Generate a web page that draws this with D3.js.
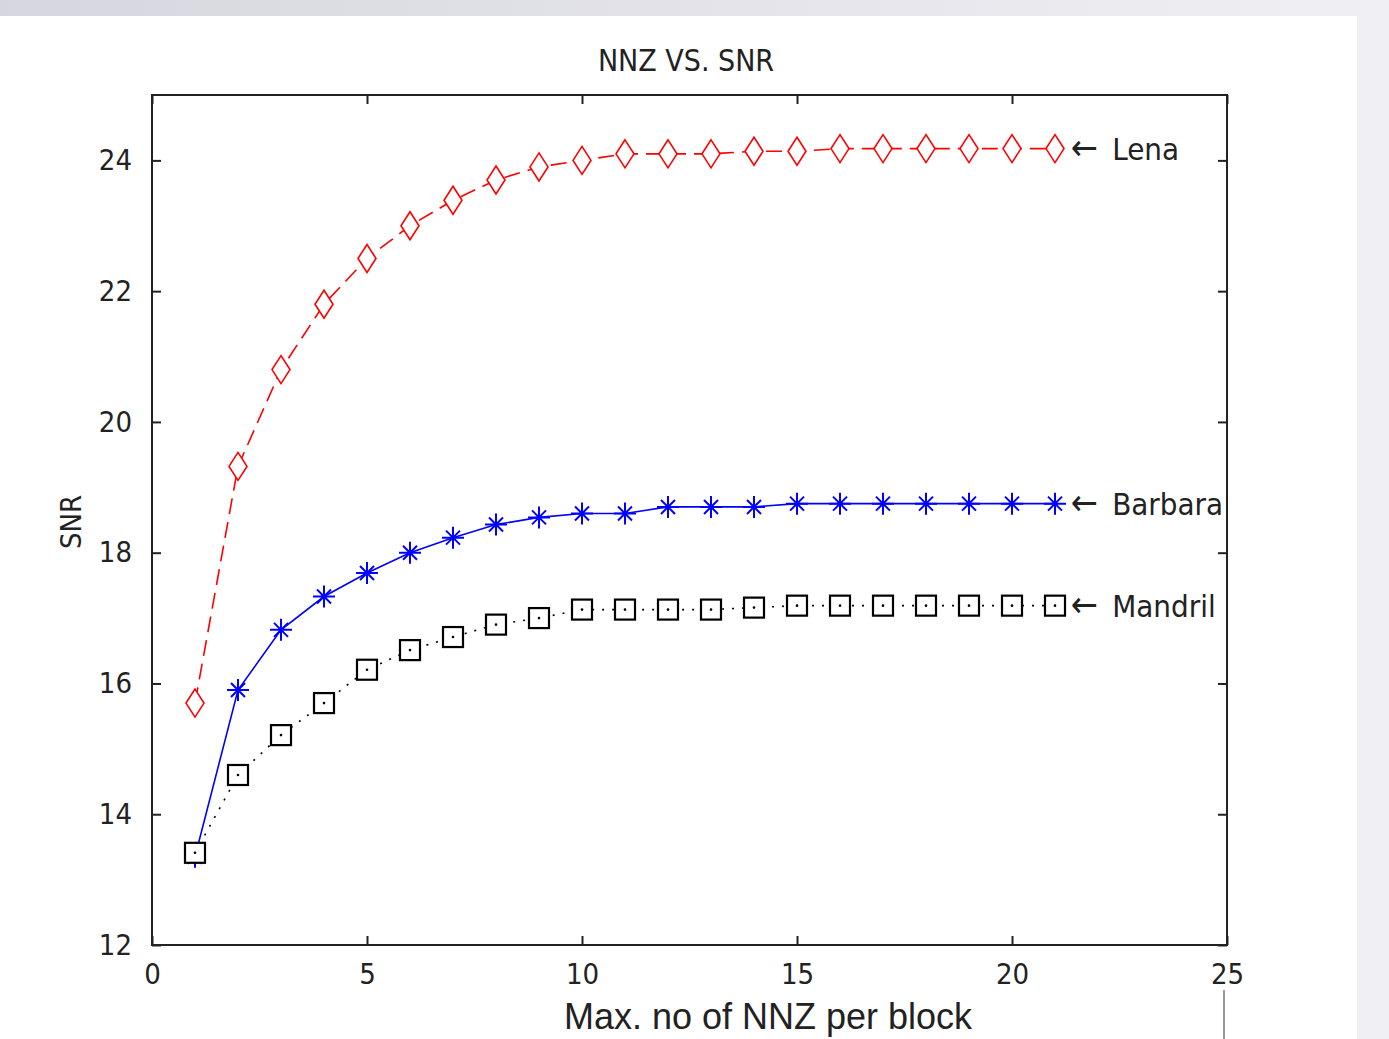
<!DOCTYPE html>
<html>
<head>
<meta charset="UTF-8" />
<title>NNZ VS. SNR</title>
<script src="https://d3js.org/d3.v7.min.js"></script>
<style>
  body { margin: 0; background: #fff; }
  svg text { fill: #222; }
  .mat { font-family: "DejaVu Sans Condensed", "DejaVu Sans", sans-serif; }
</style>
</head>
<body>
<svg width="1389" height="1039"></svg>
<script>
const nnz = d3.range(1, 22);
const lena = [15.7, 19.32, 20.8, 21.8, 22.5, 23.0, 23.39, 23.7, 23.9, 24.0, 24.1, 24.1, 24.1, 24.14, 24.14, 24.18, 24.18, 24.18, 24.18, 24.18, 24.18];
const barbara = [13.35, 15.9, 16.82, 17.33, 17.69, 18.0, 18.23, 18.43, 18.54, 18.6, 18.6, 18.7, 18.7, 18.7, 18.75, 18.75, 18.75, 18.75, 18.75, 18.75, 18.75];
const mandril = [13.41, 14.6, 15.21, 15.7, 16.21, 16.51, 16.71, 16.9, 17.0, 17.13, 17.13, 17.13, 17.13, 17.16, 17.19, 17.19, 17.19, 17.19, 17.19, 17.19, 17.19];
const xTicks = [0, 5, 10, 15, 20, 25];
const yTicks = [12, 14, 16, 18, 20, 22, 24];

const svg = d3.select("svg");

// page background bits (grey strips from the screenshot)
const grad = svg.append("defs").append("linearGradient").attr("id", "topg");
grad.append("stop").attr("offset", "0%").attr("stop-color", "#d6d6de");
grad.append("stop").attr("offset", "100%").attr("stop-color", "#f0f0f4");
svg.append("rect").attr("x", 0).attr("y", 0).attr("width", 1389).attr("height", 16).attr("fill", "url(#topg)");
svg.append("rect").attr("x", 1357).attr("y", 16).attr("width", 32).attr("height", 1023).attr("fill", "#efeff4");
svg.append("line").attr("x1", 1224).attr("x2", 1224).attr("y1", 990).attr("y2", 1039)
  .attr("stroke", "#999").attr("stroke-width", 2);

const pLeft = 152, pRight = 1227, pTop = 95, pBottom = 945;
const x = d3.scaleLinear().domain([0, 25]).range([pLeft, pRight]);
const y = d3.scaleLinear().domain([12, 25]).range([pBottom, pTop]);

// axes (ticks inside, MATLAB style)
const tl = -9;
svg.append("g").attr("transform", `translate(0,${pBottom})`)
  .call(d3.axisBottom(x).tickValues(xTicks).tickSize(tl).tickPadding(18).tickSizeOuter(0))
  .call(g => g.select(".domain").remove());
svg.append("g").attr("transform", `translate(0,${pTop})`)
  .call(d3.axisTop(x).tickValues(xTicks).tickSize(tl).tickFormat("").tickSizeOuter(0))
  .call(g => g.select(".domain").remove());
svg.append("g").attr("transform", `translate(${pLeft},0)`)
  .call(d3.axisLeft(y).tickValues(yTicks).tickSize(tl).tickPadding(20).tickSizeOuter(0))
  .call(g => g.select(".domain").remove());
svg.append("g").attr("transform", `translate(${pRight},0)`)
  .call(d3.axisRight(y).tickValues(yTicks).tickSize(tl).tickFormat("").tickSizeOuter(0))
  .call(g => g.select(".domain").remove());
svg.selectAll(".tick line").attr("stroke", "#222").attr("stroke-width", 2);
svg.selectAll(".tick text").attr("class", "mat").attr("fill", "#222")
  .style("font-size", "29px").style("font-family", "'DejaVu Sans Condensed', 'DejaVu Sans', sans-serif");

svg.append("rect").attr("x", pLeft).attr("y", pTop).attr("width", pRight - pLeft).attr("height", pBottom - pTop)
  .attr("fill", "none").attr("stroke", "#222").attr("stroke-width", 2);

// title and labels
svg.append("text").attr("class", "mat").attr("x", 686).attr("y", 71).attr("text-anchor", "middle")
  .style("font-size", "30px")
  .text("NNZ VS. SNR");
svg.append("text").attr("class", "mat").attr("transform", "translate(81,522) rotate(-90)").attr("text-anchor", "middle")
  .style("font-size", "29px")
  .text("SNR");
svg.append("text").attr("x", 768).attr("y", 1029).attr("text-anchor", "middle")
  .style("font-family", "'Liberation Sans', Arial, sans-serif")
  .style("font-size", "36px").attr("fill", "#111").text("Max. no of NNZ per block");

const series = [
  { name: "Lena", values: lena, color: "#ff0000", dash: "16,8", marker: "diamond" },
  { name: "Barbara", values: barbara, color: "#0000ff", dash: null, marker: "star" },
  { name: "Mandril", values: mandril, color: "#000000", dash: "2,8", marker: "square" }
];

const line = d3.line().x((d, i) => x(nnz[i])).y(d => y(d));

series.forEach(s => {
  const g = svg.append("g");
  g.append("path").datum(s.values).attr("d", line).attr("fill", "none")
    .attr("stroke", s.color).attr("stroke-width", 1.6).attr("stroke-dasharray", s.dash);
  const m = g.selectAll("g.m").data(s.values).join("g")
    .attr("transform", (d, i) => `translate(${x(nnz[i])},${y(d)})`);
  if (s.marker === "diamond") {
    m.append("path").attr("d", "M0,-14L9,0L0,14L-9,0Z").attr("fill", "#fff")
      .attr("stroke", s.color).attr("stroke-width", 1.6);
  } else if (s.marker === "square") {
    m.append("rect").attr("x", -10).attr("y", -10).attr("width", 20).attr("height", 20)
      .attr("fill", "#fff").attr("stroke", s.color).attr("stroke-width", 2.2);
    m.append("circle").attr("r", 1.3).attr("fill", s.color);
  } else {
    m.append("path").attr("d", "M-11,0H11M0,-11V11M-7,-7L7,7M-7,7L7,-7")
      .attr("stroke", s.color).attr("stroke-width", 2);
  }
  const last = s.values[s.values.length - 1];
  const lbl = svg.append("text").attr("class", "mat").attr("x", 1071).attr("y", y(last) + 11)
    .style("font-size", "31px");
  lbl.append("tspan").style("font-size", "36px").text("\u2190");
  lbl.append("tspan").attr("dx", 14).text(s.name);
});
</script>
</body>
</html>
